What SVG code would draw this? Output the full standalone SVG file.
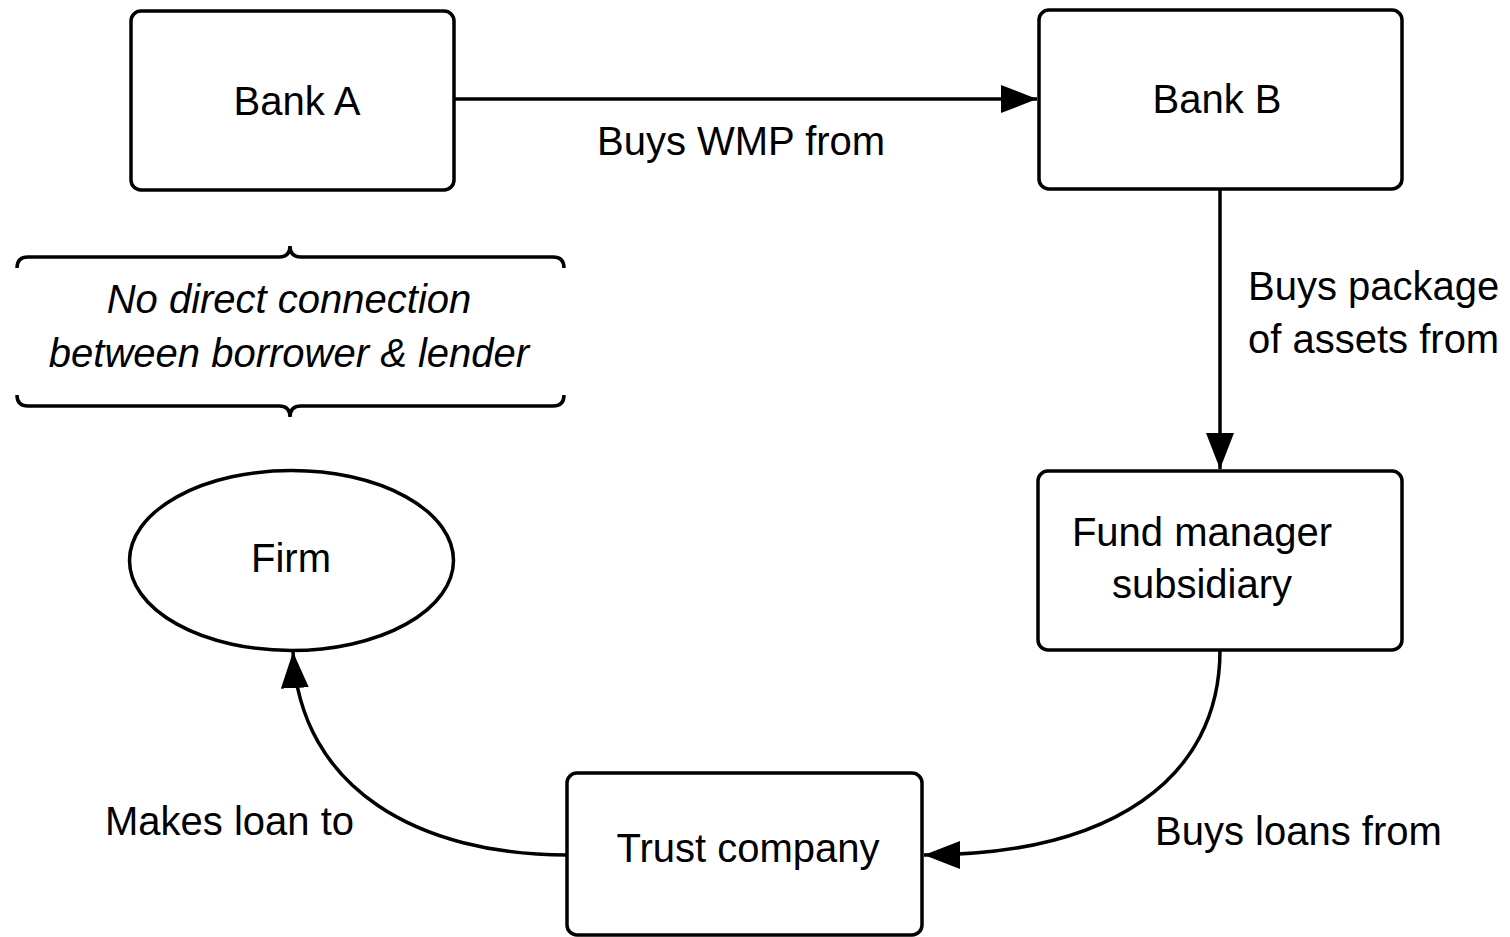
<svg xmlns="http://www.w3.org/2000/svg" width="1510" height="937" viewBox="0 0 1510 937">
<defs>
<style>
.box{fill:#fff;stroke:#000;stroke-width:3.5}
.t{font-family:"Liberation Sans",Arial,sans-serif;font-size:40px;fill:#000}
.c{text-anchor:middle}
.i{font-style:italic}
.ln{fill:none;stroke:#000;stroke-width:3.5}
</style>
<marker id="ah" viewBox="0 0 36 28" refX="36" refY="14" markerWidth="36" markerHeight="28" markerUnits="userSpaceOnUse" orient="auto">
<path d="M0,0 L36,14 L0,28 Z" fill="#000"/>
</marker>
</defs>
<rect width="1510" height="937" fill="#fff"/>
<g id="connectors">
<path class="ln" d="M454,99 L1037,99" marker-end="url(#ah)"/>
<path class="ln" d="M1220,189 L1220,469" marker-end="url(#ah)"/>
<path class="ln" d="M1220,650 C1220,780 1110,855 924,855" marker-end="url(#ah)"/>
<path class="ln" d="M567,855 C420,855 300,790 293,652" marker-end="url(#ah)"/>
<text class="t" x="597" y="155">Buys WMP from</text>
<text class="t" x="1248" y="300">Buys package</text>
<text class="t" x="1248" y="353">of assets from</text>
<text class="t" x="1155" y="845">Buys loans from</text>
<text class="t" x="105" y="835">Makes loan to</text>
</g>
<g id="bankA">
<rect class="box" x="131" y="11" width="323" height="179" rx="10"/>
<text class="t c" x="297" y="115">Bank A</text>
</g>
<g id="bankB">
<rect class="box" x="1039" y="10" width="363" height="179" rx="10"/>
<text class="t c" x="1217" y="113">Bank B</text>
</g>
<g id="fundManager">
<rect class="box" x="1038" y="471" width="364" height="179" rx="10"/>
<text class="t c" x="1202" y="546">Fund manager</text>
<text class="t c" x="1202" y="598">subsidiary</text>
</g>
<g id="trustCompany">
<rect class="box" x="567" y="773" width="355" height="162" rx="10"/>
<text class="t c" x="748" y="862">Trust company</text>
</g>
<g id="firm">
<ellipse class="box" cx="291.5" cy="560.5" rx="162" ry="90"/>
<text class="t c" x="291" y="572">Firm</text>
</g>
<g id="note">
<path class="ln" d="M17,268 Q17,257 28,257 L279,257 Q290,257 290,246 Q290,257 301,257 L553,257 Q564,257 564,268"/>
<path class="ln" d="M17,395 Q17,406 28,406 L279,406 Q290,406 290,417 Q290,406 301,406 L553,406 Q564,406 564,395"/>
<text class="t c i" x="289" y="313">No direct connection</text>
<text class="t c i" x="289" y="367">between borrower &amp; lender</text>
</g>
</svg>
